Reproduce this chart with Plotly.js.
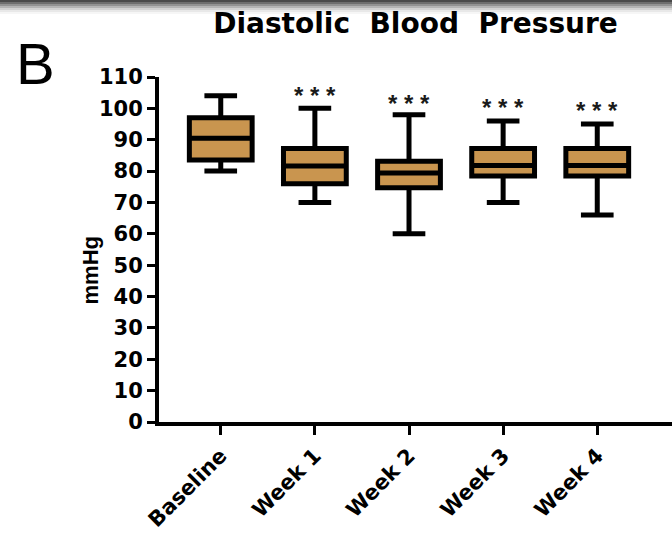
<!DOCTYPE html>
<html>
<head>
<meta charset="utf-8">
<script src="https://cdn.plot.ly/plotly-3.0.1.min.js"></script>
<style>
  html, body { margin: 0; padding: 0; background: #fff; }
  #chart { width: 672px; height: 537px; }
</style>
</head>
<body>
<div id="chart"></div>
<script>
// Diastolic blood pressure (mmHg) summary per visit
const visits      = ["Baseline", "Week 1", "Week 2", "Week 3", "Week 4"];
const lowerWhisk  = [80, 70, 60, 70, 66];
const q1Values    = [83.5, 76, 74.7, 78.4, 78.4];
const medians     = [90.5, 81.6, 79.4, 81.8, 81.8];
const q3Values    = [97, 87.2, 83.1, 87.2, 87.2];
const upperWhisk  = [104, 100, 98, 96, 95];
const sigLabels   = ["", "***", "***", "***", "***"];
const sigHeights  = [null, 105.5, 102.9, 101.6, 100.6];

const FONT = "Liberation Sans, Arial, Helvetica, sans-serif";
const WIDE = "DejaVu Sans, Verdana, sans-serif";
const TAN = "#c9954f";

const box = {
  type: "box",
  x: visits,
  q1: q1Values,
  median: medians,
  q3: q3Values,
  lowerfence: lowerWhisk,
  upperfence: upperWhisk,
  width: 0.667,
  whiskerwidth: 0.52,
  fillcolor: TAN,
  line: { color: "#000", width: 5 },
  boxpoints: false,
  hoverinfo: "skip",
  showlegend: false
};

// significance stars above the follow-up visits
const annotations = [];
visits.forEach((v, i) => {
  if (!sigLabels[i]) return;
  annotations.push({
    x: v, y: sigHeights[i], xref: "x", yref: "y",
    text: sigLabels[i].split("").join(" "),
    showarrow: false, xanchor: "center", yanchor: "middle", yshift: -4,
    font: { family: FONT, size: 24, color: "#1a1a1a", weight: "bold" }
  });
});

// panel letter
annotations.push({
  x: -0.2417, y: 1.04, xref: "paper", yref: "paper",
  text: "B", showarrow: false, xanchor: "center", yanchor: "middle",
  font: { family: FONT, size: 58, color: "#000" }
});

// y-axis unit label
annotations.push({
  x: -0.134, y: 0.44, xref: "paper", yref: "paper",
  text: "mmHg", textangle: -90, showarrow: false,
  xanchor: "center", yanchor: "middle",
  font: { family: FONT, size: 22, color: "#000", weight: "bold" }
});

// soft grey band along the top edge
const bandShades = ["#4a4a4a", "#6e6e6e", "#929292", "#b4b4b4", "#d2d2d2", "#e8e8e8", "#f6f6f6"];
const shapes = bandShades.map((c, k) => {
  const pxTop = k * 2, pxBot = k * 2 + 2;
  return {
    type: "rect", xref: "paper", yref: "paper", layer: "below",
    x0: -0.32, x1: 1.01,
    y0: (422 - pxBot) / 345, y1: (422 - pxTop) / 345,
    fillcolor: c, line: { width: 0 }
  };
});

const layout = {
  width: 672,
  height: 537,
  margin: { l: 159, r: 0, t: 77, b: 115, pad: 0 },
  paper_bgcolor: "#fff",
  plot_bgcolor: "#fff",
  title: {
    text: "Diastolic  Blood  Pressure",
    font: { family: WIDE, size: 28, color: "#000", weight: "bold" },
    xref: "paper", x: 0.5, xanchor: "center",
    yref: "container", y: 0.957, yanchor: "middle"
  },
  xaxis: {
    type: "category",
    categoryorder: "array",
    categoryarray: visits,
    range: [-0.656, 4.794],
    showline: true, linecolor: "#000", linewidth: 4,
    ticks: "outside", ticklen: 9, tickwidth: 3, tickcolor: "#000",
    tickangle: -45,
    tickfont: { family: WIDE, size: 21, color: "#000", weight: "bold" },
    showgrid: false, zeroline: false, fixedrange: true
  },
  yaxis: {
    range: [0, 110],
    tickmode: "linear", tick0: 0, dtick: 10,
    showline: true, linecolor: "#000", linewidth: 4,
    ticks: "outside", ticklen: 8, tickwidth: 3, tickcolor: "#000",
    tickfont: { family: WIDE, size: 21, color: "#000", weight: "bold" },
    showgrid: false, zeroline: false, fixedrange: true
  },
  annotations: annotations,
  shapes: shapes
};

Plotly.newPlot("chart", [box], layout, { displayModeBar: false, staticPlot: true });
</script>
</body>
</html>
